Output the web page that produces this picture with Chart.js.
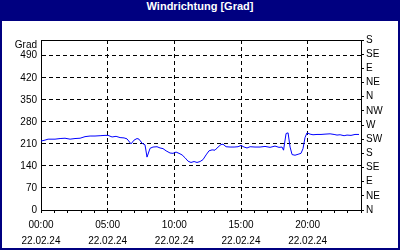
<!DOCTYPE html>
<html>
<head>
<meta charset="utf-8">
<script src="https://cdn.jsdelivr.net/npm/chart.js@4"></script>
<style>
  body { margin: 0; }
  #frame { width: 400px; height: 250px; background: #000080; position: relative; }
  #title {
    position: absolute; left: 0; top: 0; width: 400px; height: 21px;
    line-height: 20px; text-align: center; color: #fff;
    font: bold 11px "Liberation Sans", Arial, sans-serif;
  }
  #box { position: absolute; left: 2px; top: 21px; width: 396px; height: 227px; background: #fff; }
</style>
</head>
<body>
<div id="frame">
  <div id="title">Windrichtung [Grad]</div>
  <div id="box"><canvas id="windChart" width="396" height="227"></canvas></div>
</div>
<script>
// time of day in hours
const hours = [
  0, 0.3, 0.53, 1.05, 1.43, 1.8, 2.18, 2.55, 2.93, 3.3, 3.68, 4.05, 4.43, 4.8,
  5.03, 5.33, 5.63, 5.93, 6.23, 6.45, 6.75, 6.98, 7.2, 7.35, 7.58, 7.8, 7.95,
  8.18, 8.4, 8.7, 8.93, 9.15, 9.38, 9.68, 9.9, 10.13, 10.35, 10.58, 10.8, 11.03,
  11.25, 11.48, 11.7, 11.93, 12.15, 12.38, 12.6, 12.83, 13.05, 13.28, 13.5, 13.65,
  13.88, 14.18, 14.48, 14.78, 15.0, 15.23, 15.45, 15.68, 16.05, 16.43, 16.8, 17.18,
  17.55, 17.85, 18.08, 18.19, 18.38, 18.53, 18.68, 18.83, 19.05, 19.28, 19.5, 19.65,
  19.8, 19.95, 20.18, 20.4, 20.7, 21.0, 21.3, 21.68, 21.98, 22.2, 22.43, 22.73,
  22.95, 23.25, 23.55, 23.85
];
// wind direction in degrees
const direction = [
  219, 222, 225, 225, 227, 228, 225, 227, 228, 233, 235, 235, 236, 237,
  237, 232, 234, 230, 229, 226, 210, 222, 227, 225, 212, 207, 168,
  196, 200, 201, 197, 195, 188, 181, 180, 184, 180, 175, 166, 155,
  151, 154, 151, 154, 160, 175, 188, 191, 190, 200, 208, 209,
  201, 200, 200, 201, 205, 200, 197, 201, 200, 200, 202, 199,
  203, 199, 200, 190, 243, 245, 200, 176, 174, 177, 180, 195,
  230, 245, 241, 239, 240, 240, 241, 242, 240, 238, 239, 236,
  238, 237, 240, 240
];

const hourTicks = [0, 1, 2, 3, 4, 5, 6, 7, 8, 9, 10, 11, 12, 13, 14, 15, 16, 17, 18, 19, 20, 21, 22, 23, 24];
const timeLabels = { 0: "00:00", 5: "05:00", 10: "10:00", 15: "15:00", 20: "20:00" };
const dateLabel = "22.02.24";
const gradTicks = [0, 70, 140, 210, 280, 350, 420, 490];
const compassTicks = [0, 45, 90, 135, 180, 225, 270, 315, 360, 405, 450, 495, 540];
const compassLabels = ["N", "NE", "E", "SE", "S", "SW", "W", "NW", "N", "NE", "E", "SE", "S"];
const yUnit = "Grad";

const tickFont = { family: '"Liberation Sans", Arial, sans-serif', size: 10 };

const gradLabel = {
  id: "gradLabel",
  afterDraw(chart) {
    const { ctx, chartArea } = chart;
    ctx.save();
    ctx.font = '10px "Liberation Sans", Arial, sans-serif';
    ctx.fillStyle = "#000";
    ctx.textAlign = "right";
    ctx.textBaseline = "middle";
    ctx.fillText(yUnit, chartArea.left - 4, chartArea.top + 5);
    ctx.restore();
  }
};

const points = hours.map((h, i) => ({ x: h, y: direction[i] }));

new Chart(document.getElementById("windChart"), {
  type: "line",
  data: {
    datasets: [{
      data: points,
      borderColor: "#0000ff",
      borderWidth: 1,
      pointRadius: 0,
      tension: 0,
      xAxisID: "x",
      yAxisID: "y"
    }]
  },
  options: {
    responsive: false,
    devicePixelRatio: 1,
    animation: false,
    layout: { padding: { top: 19, left: 0, right: 0, bottom: 0 } },
    plugins: { legend: { display: false }, tooltip: { enabled: false } },
    scales: {
      x: {
        type: "linear", position: "bottom", min: 0, max: 24,
        afterBuildTicks: s => { s.ticks = hourTicks.map(v => ({ value: v })); },
        afterFit: s => { s.height = 38; },
        ticks: {
          autoSkip: false, maxRotation: 0, padding: 4, color: "#000",
          font: { ...tickFont, lineHeight: 1.6 },
          callback: v => timeLabels[v] !== undefined ? [timeLabels[v], dateLabel] : ""
        },
        grid: {
          color: c => (c.tick && c.tick.value % 5 === 0 && c.tick.value > 0 && c.tick.value < 24) ? "#000" : "rgba(0,0,0,0)",
          tickColor: "#000", tickLength: 3, lineWidth: 1
        },
        border: { color: "#000", dash: [4, 3] }
      },
      x2: {
        type: "linear", position: "top", min: 0, max: 24,
        ticks: { display: false },
        grid: { display: false },
        border: { color: "#000" },
        afterFit: s => { s.height = 0; }
      },
      y: {
        position: "left", min: 0, max: 540,
        afterBuildTicks: s => { s.ticks = gradTicks.map(v => ({ value: v })); },
        afterFit: s => { s.width = 39; },
        ticks: { autoSkip: false, color: "#000", padding: 4, font: tickFont },
        grid: {
          drawTicks: false,
          color: c => (c.tick && c.tick.value > 0) ? "#000" : "rgba(0,0,0,0)"
        },
        border: { color: "#000", dash: [4, 3] }
      },
      y2: {
        position: "right", min: 0, max: 540,
        afterBuildTicks: s => { s.ticks = compassTicks.map(v => ({ value: v })); },
        afterFit: s => { s.width = 37; },
        ticks: {
          autoSkip: false, color: "#000", padding: 2, font: tickFont,
          callback: v => compassLabels[compassTicks.indexOf(v)]
        },
        grid: { drawOnChartArea: false, tickColor: "#000", tickLength: 3 },
        border: { color: "#000" }
      }
    }
  },
  plugins: [gradLabel]
});
</script>
</body>
</html>
